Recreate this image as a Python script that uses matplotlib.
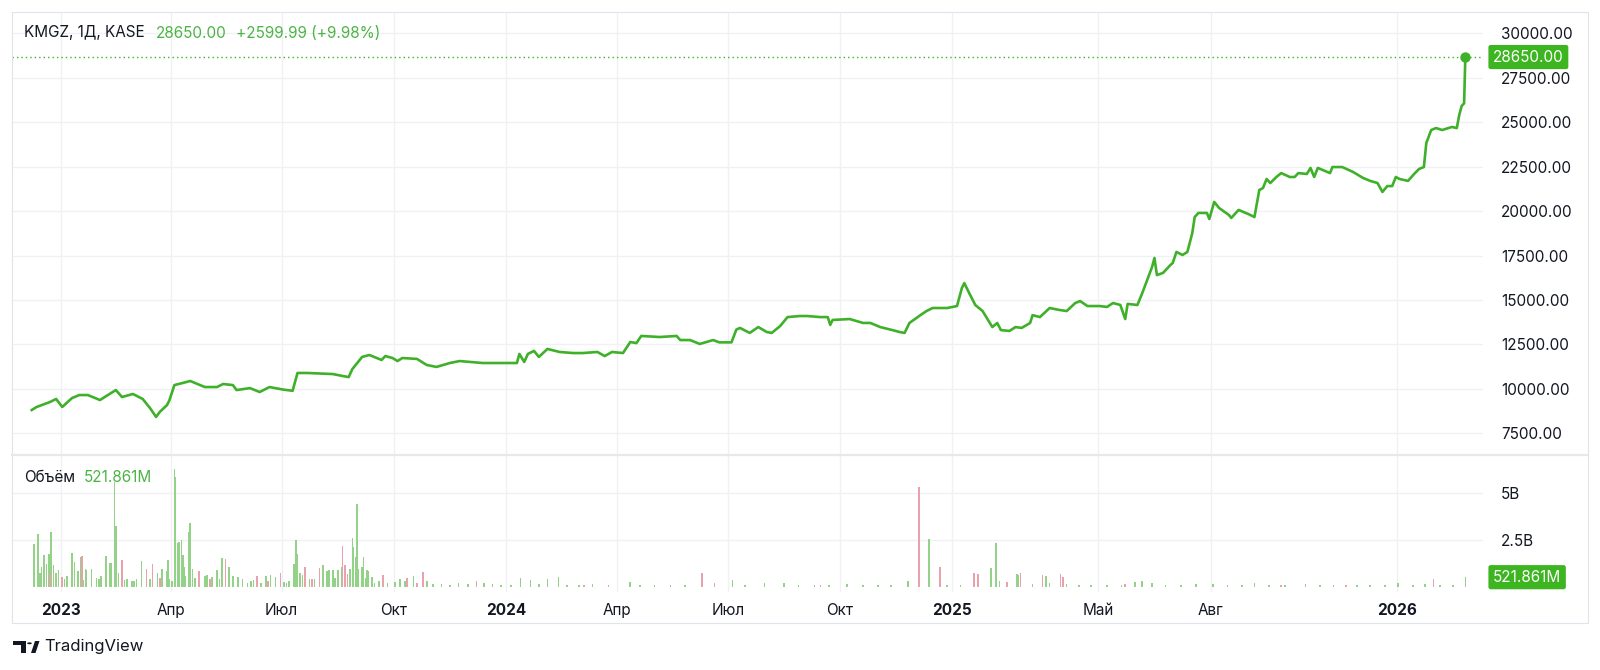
import numpy as np
import matplotlib.pyplot as plt
import matplotlib.dates as mdates
import matplotlib.transforms as mtransforms
from matplotlib.patches import Rectangle, Circle, Polygon
from matplotlib.lines import Line2D

plt.rcParams['font.family'] = ['Inter', 'DejaVu Sans']

# ---- data ----
ticker = "KMGZ, 1Д, KASE"
last_text = "28650.00"
change_text = "+2599.99 (+9.98%)"
vol_last_text = "521.861M"

price_dates = [
    '2022-12-08', '2022-12-12', '2022-12-23', '2022-12-28', '2023-01-02', '2023-01-10',
    '2023-01-16', '2023-01-23', '2023-02-02', '2023-02-07', '2023-02-15', '2023-02-20',
    '2023-03-01', '2023-03-09', '2023-03-15', '2023-03-20', '2023-03-23', '2023-03-29',
    '2023-03-31', '2023-04-04', '2023-04-11', '2023-04-17', '2023-04-25', '2023-04-29',
    '2023-05-09', '2023-05-14', '2023-05-22', '2023-05-25', '2023-06-05', '2023-06-13',
    '2023-06-21', '2023-07-02', '2023-07-10', '2023-07-14', '2023-07-22', '2023-08-12',
    '2023-08-20', '2023-08-25', '2023-08-28', '2023-09-05', '2023-09-11', '2023-09-21',
    '2023-09-24', '2023-09-30', '2023-10-04', '2023-10-08', '2023-10-20', '2023-10-28',
    '2023-11-05', '2023-11-16', '2023-11-24', '2023-12-13', '2024-01-01', '2024-01-10',
    '2024-01-12', '2024-01-16', '2024-01-19', '2024-01-24', '2024-01-28', '2024-02-04',
    '2024-02-14', '2024-02-25', '2024-03-04', '2024-03-16', '2024-03-22', '2024-03-28',
    '2024-04-06', '2024-04-12', '2024-04-17', '2024-04-21', '2024-05-06', '2024-05-20',
    '2024-05-23', '2024-05-31', '2024-06-08', '2024-06-19', '2024-06-24', '2024-07-04',
    '2024-07-08', '2024-07-11', '2024-07-19', '2024-07-26', '2024-08-02', '2024-08-06',
    '2024-08-13', '2024-08-19', '2024-08-29', '2024-09-04', '2024-09-15', '2024-09-21',
    '2024-09-23', '2024-09-25', '2024-10-09', '2024-10-20', '2024-10-26', '2024-11-03',
    '2024-11-13', '2024-11-19', '2024-11-23', '2024-11-27', '2024-12-06', '2024-12-11',
    '2024-12-16', '2024-12-28', '2025-01-05', '2025-01-09', '2025-01-11', '2025-01-15',
    '2025-01-20', '2025-01-26', '2025-02-01', '2025-02-03', '2025-02-07', '2025-02-10',
    '2025-02-17', '2025-02-22', '2025-02-27', '2025-03-06', '2025-03-08', '2025-03-14',
    '2025-03-22', '2025-03-30', '2025-04-05', '2025-04-12', '2025-04-16', '2025-04-22',
    '2025-05-02', '2025-05-08', '2025-05-13', '2025-05-19', '2025-05-23', '2025-05-25',
    '2025-06-02', '2025-06-06', '2025-06-10', '2025-06-14', '2025-06-16', '2025-06-18',
    '2025-06-23', '2025-06-29', '2025-07-01', '2025-07-04', '2025-07-09', '2025-07-13',
    '2025-07-17', '2025-07-19', '2025-07-22', '2025-07-29', '2025-07-31', '2025-08-04',
    '2025-08-08', '2025-08-16', '2025-08-18', '2025-08-24', '2025-09-01', '2025-09-06',
    '2025-09-10', '2025-09-13', '2025-09-16', '2025-09-19', '2025-09-24', '2025-09-28',
    '2025-10-05', '2025-10-09', '2025-10-12', '2025-10-19', '2025-10-22', '2025-10-25',
    '2025-10-28', '2025-11-07', '2025-11-09', '2025-11-17', '2025-11-26', '2025-12-04',
    '2025-12-10', '2025-12-16', '2025-12-20', '2025-12-24', '2025-12-28', '2025-12-31',
    '2026-01-03', '2026-01-10', '2026-01-15', '2026-01-19', '2026-01-23', '2026-01-25',
    '2026-01-29', '2026-02-02', '2026-02-07', '2026-02-15', '2026-02-19', '2026-02-21',
    '2026-02-23', '2026-02-25', '2026-02-26',
]
price_values = [
    8820, 8990, 9270, 9440, 8990, 9490,
    9660, 9660, 9380, 9600, 9940, 9550,
    9720, 9440, 8930, 8430, 8710, 9100,
    9380, 10220, 10340, 10450, 10220, 10110,
    10110, 10280, 10220, 9940, 10050, 9830,
    10110, 9970, 9900, 10900, 10900, 10840,
    10730, 10670, 11120, 11800, 11910, 11630,
    11850, 11740, 11570, 11740, 11690, 11350,
    11240, 11460, 11570, 11460, 11460, 11460,
    11970, 11520, 11970, 12140, 11800, 12250,
    12080, 12020, 12020, 12080, 11850, 12080,
    12020, 12640, 12580, 12980, 12920, 12980,
    12750, 12750, 12530, 12750, 12620, 12620,
    13340, 13430, 13150, 13480, 13200, 13150,
    13540, 14040, 14100, 14100, 14040, 14040,
    13600, 13880, 13930, 13710, 13710, 13480,
    13310, 13200, 13150, 13710, 14150, 14380,
    14550, 14550, 14660, 15670, 15950, 15390,
    14720, 14380, 13710, 13480, 13710, 13310,
    13260, 13480, 13430, 13710, 14150, 14040,
    14550, 14440, 14380, 14830, 14940, 14660,
    14660, 14610, 14830, 14720, 13930, 14780,
    14720, 15390, 16120, 16850, 17360, 16400,
    16520, 16960, 17080, 17700, 17530, 17700,
    18760, 19660, 19890, 19890, 19550, 20510,
    20170, 19780, 19610, 20060, 19830, 19660,
    21180, 21290, 21800, 21570, 21910, 22130,
    21910, 21910, 22130, 22080, 22420, 21910,
    22420, 22130, 22470, 22470, 22190, 21860,
    21690, 21570, 21070, 21400, 21400, 21910,
    21800, 21690, 22080, 22360, 22470, 23820,
    24550, 24660, 24550, 24720, 24660, 25390,
    25900, 26050, 28650,
]

# volume in billions, split by up / down day
up_dates = [
    '2022-12-10', '2022-12-13', '2022-12-15', '2022-12-16', '2022-12-18', '2022-12-20',
    '2022-12-22', '2022-12-24', '2022-12-26', '2022-12-28', '2022-12-30', '2023-01-04',
    '2023-01-06', '2023-01-10', '2023-01-12', '2023-01-15', '2023-01-17', '2023-01-19',
    '2023-01-21', '2023-01-22', '2023-01-26', '2023-01-30', '2023-02-01', '2023-02-03',
    '2023-02-07', '2023-02-10', '2023-02-11', '2023-02-14', '2023-02-15', '2023-02-17',
    '2023-02-22', '2023-02-24', '2023-02-28', '2023-03-02', '2023-03-04', '2023-03-08',
    '2023-03-15', '2023-03-21', '2023-03-25', '2023-03-29', '2023-03-30', '2023-03-31',
    '2023-04-02', '2023-04-04', '2023-04-05', '2023-04-07', '2023-04-08', '2023-04-10',
    '2023-04-11', '2023-04-12', '2023-04-13', '2023-04-16', '2023-04-17', '2023-04-19',
    '2023-04-21', '2023-04-29', '2023-05-01', '2023-05-05', '2023-05-09', '2023-05-11',
    '2023-05-13', '2023-05-19', '2023-05-22', '2023-05-26', '2023-05-30', '2023-06-03',
    '2023-06-06', '2023-06-08', '2023-06-14', '2023-06-18', '2023-06-22', '2023-06-26',
    '2023-07-03', '2023-07-05', '2023-07-07', '2023-07-11', '2023-07-13', '2023-07-14',
    '2023-07-16', '2023-07-18', '2023-07-24', '2023-07-28', '2023-08-04', '2023-08-07',
    '2023-08-09', '2023-08-12', '2023-08-14', '2023-08-16', '2023-08-19', '2023-08-26',
    '2023-08-28', '2023-08-29', '2023-08-31', '2023-09-01', '2023-09-02', '2023-09-05',
    '2023-09-06', '2023-09-08', '2023-09-09', '2023-09-10', '2023-09-13', '2023-09-15',
    '2023-09-19', '2023-09-26', '2023-10-02', '2023-10-06', '2023-10-10', '2023-10-17',
    '2023-10-28', '2023-11-02', '2023-11-09', '2023-11-16', '2023-11-23', '2023-12-01',
    '2023-12-14', '2023-12-21', '2023-12-28', '2024-01-05', '2024-01-13', '2024-01-21',
    '2024-01-28', '2024-02-04', '2024-02-13', '2024-02-20', '2024-03-01', '2024-03-12',
    '2024-03-25', '2024-04-12', '2024-04-20', '2024-05-02', '2024-05-15', '2024-05-27',
    '2024-07-05', '2024-07-15', '2024-07-31', '2024-08-16', '2024-08-28', '2024-09-10',
    '2024-09-22', '2024-10-07', '2024-10-20', '2024-11-01', '2024-11-12', '2024-11-26',
    '2024-12-13', '2024-12-28', '2025-01-08', '2025-02-02', '2025-02-06', '2025-02-09',
    '2025-02-23', '2025-02-24', '2025-03-08', '2025-03-19', '2025-03-22', '2025-04-05',
    '2025-04-15', '2025-04-25', '2025-05-08', '2025-05-20', '2025-05-31', '2025-06-06',
    '2025-06-14', '2025-06-25', '2025-07-08', '2025-07-20', '2025-08-03', '2025-08-15',
    '2025-08-27', '2025-09-06', '2025-09-18', '2025-10-01', '2025-10-18', '2025-10-30',
    '2025-11-10', '2025-11-29', '2025-12-10', '2025-12-22', '2026-01-02', '2026-01-14',
    '2026-01-24', '2026-02-05', '2026-02-16', '2026-02-26',
]
up_volume = [
    2.29, 2.8, 0.75, 1.06, 1.7, 1.22,
    1.76, 2.93, 1.17, 0.75, 0.9, 0.4,
    0.56, 1.8, 1.33, 0.85, 1.6, 0.35,
    0.96, 0.9, 0.96, 0.5, 0.45, 0.6,
    1.65, 1.25, 1.25, 5.6, 3.25, 0.75,
    0.35, 0.4, 0.3, 0.3, 0.45, 1.38,
    0.4, 0.75, 0.96, 0.85, 1.44, 0.4,
    0.3, 6.3, 5.85, 2.34, 2.4, 2.5,
    1.7, 1.06, 0.6, 2.9, 3.4, 0.96,
    0.5, 0.6, 0.65, 0.55, 0.9, 0.45,
    1.54, 1.06, 0.6, 0.55, 0.4, 0.2,
    0.3, 0.35, 0.2, 0.6, 0.65, 0.55,
    0.25, 0.2, 0.3, 1.22, 2.5, 1.75,
    0.75, 0.65, 0.45, 0.4, 1.17, 0.85,
    0.9, 0.88, 0.5, 0.9, 1.06, 0.96,
    2.6, 2.15, 1.6, 4.4, 0.96, 1.06,
    1.6, 0.5, 0.9, 0.85, 0.55, 0.2,
    0.3, 0.2, 0.25, 0.4, 0.3, 0.6,
    0.3, 0.15, 0.15, 0.12, 0.2, 0.15,
    0.2, 0.15, 0.1, 0.1, 0.5, 0.35,
    0.15, 0.4, 0.55, 0.12, 0.1, 0.15,
    0.08, 0.25, 0.1, 0.08, 0.12, 0.1,
    0.35, 0.1, 0.2, 0.2, 0.1, 0.08,
    0.1, 0.15, 0.08, 0.1, 0.08, 0.3,
    2.55, 0.1, 0.12, 1.0, 2.35, 0.3,
    0.7, 0.65, 0.15, 0.6, 0.2, 0.15,
    0.1, 0.12, 0.08, 0.1, 0.25, 0.3,
    0.2, 0.12, 0.1, 0.15, 0.15, 0.08,
    0.1, 0.2, 0.1, 0.08, 0.15, 0.08,
    0.1, 0.1, 0.08, 0.1, 0.2, 0.1,
    0.15, 0.12, 0.1, 0.521861,
]
down_dates = [
    '2022-12-23', '2023-01-02', '2023-01-18', '2023-02-20', '2023-03-12', '2023-03-17',
    '2023-03-23', '2023-04-24', '2023-05-03', '2023-05-16', '2023-06-11', '2023-06-20',
    '2023-06-30', '2023-07-20', '2023-07-26', '2023-08-01', '2023-08-20', '2023-08-22',
    '2023-08-24', '2023-09-22', '2023-10-12', '2023-10-20', '2023-10-25', '2023-12-08',
    '2024-03-05', '2024-06-10', '2024-06-20', '2024-09-15', '2024-12-05', '2024-12-22',
    '2025-01-19', '2025-01-22', '2025-02-15', '2025-02-26', '2025-03-16', '2025-03-31',
    '2025-04-02', '2025-05-23', '2025-09-28', '2025-11-20', '2026-01-31',
]
down_volume = [
    0.75, 0.53, 1.65, 1.44, 0.96, 1.22,
    0.5, 0.85, 0.4, 1.5, 0.6, 0.3,
    0.75, 1.06, 0.45, 1.0, 2.2, 1.17,
    0.7, 0.65, 0.5, 0.2, 0.8, 0.3,
    0.08, 0.75, 0.2, 0.1, 5.3, 1.06,
    0.75, 0.7, 0.25, 0.75, 0.65, 0.7,
    0.55, 0.15, 0.1, 0.08, 0.45,
]

price_ticks = [7500, 10000, 12500, 15000, 17500, 20000, 22500, 25000, 27500, 30000]
vol_ticks = [2.5, 5]
vol_tick_labels = ['2.5B', '5B']
time_ticks = ['2023-01-01', '2023-04-01', '2023-07-01', '2023-10-01', '2024-01-01',
              '2024-04-01', '2024-07-01', '2024-10-01', '2025-01-01', '2025-05-01',
              '2025-08-01', '2026-01-01']
time_labels = ['2023', 'Апр', 'Июл', 'Окт', '2024', 'Апр', 'Июл', 'Окт', '2025',
               'Май', 'Авг', '2026']

# ---- styles ----
line_green = '#3fb02a'
box_green = '#3cb521'
text_green = '#4cb444'
up_col = '#93d288'
down_col = '#e9a2ad'
grid_col = '#f0f1f4'
edge_col = '#e0e3eb'
dark = '#131722'
fs = 11

W, H = 1600, 670


def rect(x0, y0, x1, y1):
    # pixel box (top-left origin) -> figure fraction
    return [x0 / W, 1 - y1 / H, (x1 - x0) / W, (y1 - y0) / H]


fig = plt.figure(figsize=(16, 6.7), dpi=100)
ax = fig.add_axes(rect(12, 12, 1483, 455))
axv = fig.add_axes(rect(12, 455, 1483, 592), sharex=ax)

pd_ = np.array(price_dates, dtype='datetime64[D]')
ax.plot(pd_, price_values, color=line_green, lw=1.9, solid_joinstyle='round', zorder=3)
ax.plot(pd_[-1], price_values[-1], 'o', color=line_green, ms=6.5, zorder=4)
ax.axhline(price_values[-1], color=line_green, lw=1.0, ls=(0, (1, 2.2)), zorder=2)

axv.bar(np.array(up_dates, dtype='datetime64[D]'), up_volume, width=1.3,
        color=up_col, linewidth=0)
axv.bar(np.array(down_dates, dtype='datetime64[D]'), down_volume, width=1.3,
        color=down_col, linewidth=0)

t0 = mdates.date2num(np.datetime64('2023-01-01'))
ax.set_xlim(t0 - 40.2, t0 + 1166.5)
ax.set_ylim(6292, 31180)
axv.set_ylim(-0.266, 7.02)

tt = np.array(time_ticks, dtype='datetime64[D]')
for a in (ax, axv):
    for s in a.spines.values():
        s.set_visible(False)
    a.set_xticks(mdates.date2num(tt))
    a.grid(True, color=grid_col, lw=1.0)
    a.set_axisbelow(True)
    a.yaxis.tick_right()
    a.tick_params(length=0, labelsize=fs, labelcolor=dark, pad=13)

ax.set_yticks(price_ticks)
ax.set_yticklabels([f'{v:.2f}' for v in price_ticks])
ax.tick_params(axis='x', labelbottom=False)

axv.set_yticks(vol_ticks)
axv.set_yticklabels(vol_tick_labels)
axv.set_xticklabels(time_labels)
axv.tick_params(axis='x', pad=8, labelsize=fs)
for lab in axv.get_xticklabels():
    if lab.get_text().isdigit():
        lab.set_fontweight('bold')

# price / volume boxes on the right scale
tr = mtransforms.blended_transform_factory(ax.transAxes, ax.transData)
ax.text(1.0068, price_values[-1], last_text, transform=tr, ha='left', va='center',
        fontsize=fs, color='white', clip_on=False,
        bbox=dict(boxstyle='round,pad=0.3,rounding_size=0.15', fc=box_green, ec='none'))
trv = mtransforms.blended_transform_factory(axv.transAxes, axv.transData)
axv.text(1.0068, up_volume[-1], vol_last_text, transform=trv, ha='left', va='center',
         fontsize=fs, color='white', clip_on=False,
         bbox=dict(boxstyle='round,pad=0.3,rounding_size=0.15', fc=box_green, ec='none'))

# legends
fig.text(24 / W, 1 - 33 / H, ticker, fontsize=fs, color=dark, va='center')
fig.text(156 / W, 1 - 33 / H, last_text, fontsize=fs, color=text_green, va='center')
fig.text(236 / W, 1 - 33 / H, change_text, fontsize=fs, color=text_green, va='center')
fig.text(24 / W, 1 - 477 / H, 'Объём', fontsize=fs, color=dark, va='center')
fig.text(84 / W, 1 - 477 / H, vol_last_text, fontsize=fs, color=text_green, va='center')

# frame and pane separator
fig.add_artist(Rectangle((12 / W, 1 - 623 / H), 1576 / W, 611 / H, transform=fig.transFigure,
                         fill=False, ec=edge_col, lw=0.8))
fig.add_artist(Line2D([12 / W, 1588 / W], [1 - 455 / H] * 2, transform=fig.transFigure,
                      color='#e6e8ec', lw=1.6))


# TradingView mark
def px(x, y):
    return (x / W, 1 - y / H)


fig.add_artist(Polygon([px(13, 641), px(26, 641), px(26, 653), px(21, 653), px(21, 645), px(13, 645)],
                       closed=True, transform=fig.transFigure, fc=dark, ec='none'))
fig.add_artist(Circle(px(29.5, 643.3), 2.3 / W, transform=fig.transFigure, fc=dark, ec='none'))
fig.add_artist(Polygon([px(31, 653), px(35.5, 653), px(39.5, 641), px(35, 641)],
                       closed=True, transform=fig.transFigure, fc=dark, ec='none'))
fig.text(44 / W, 1 - 647 / H, 'TradingView', fontsize=12, color=dark, va='center')

fig.savefig('out.png', dpi=100, facecolor='white')
